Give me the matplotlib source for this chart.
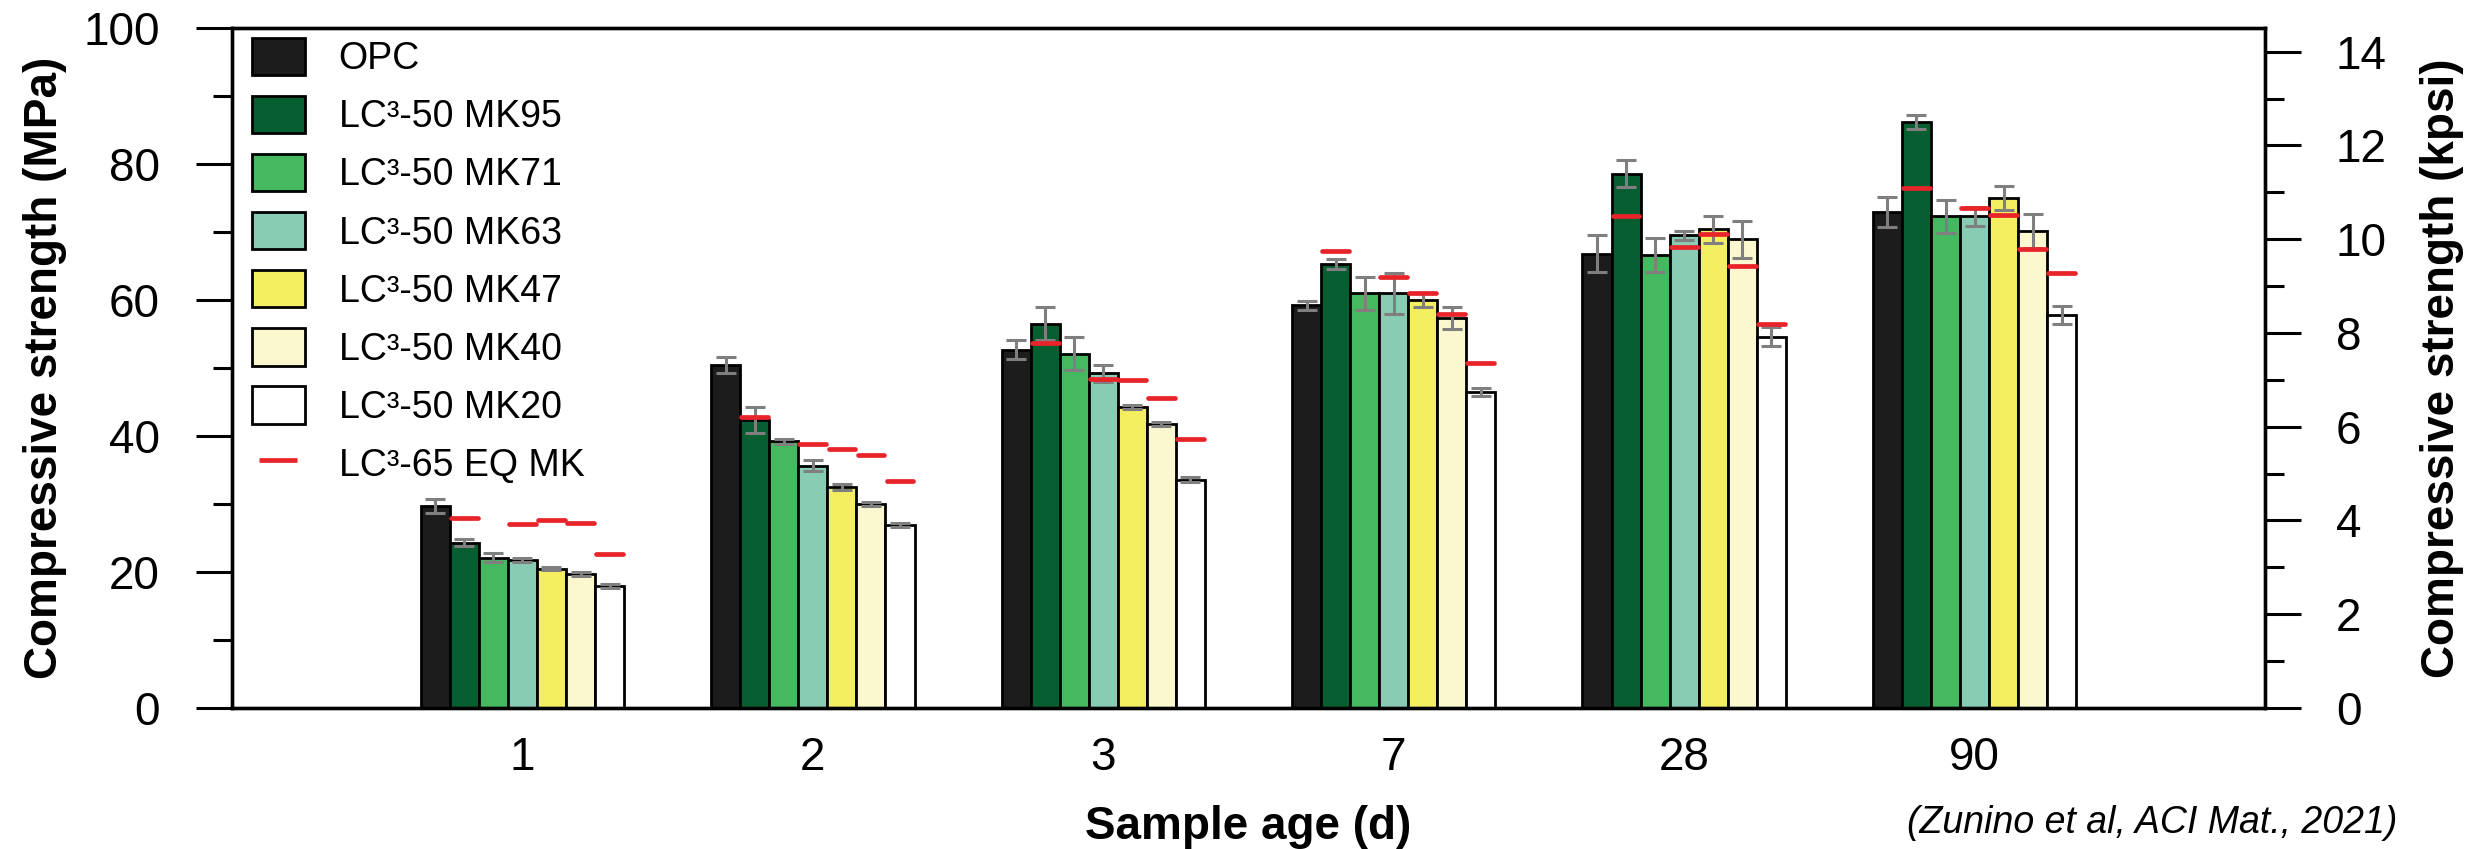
import matplotlib
matplotlib.use("Agg")
import matplotlib.pyplot as plt
import numpy as np
from matplotlib.lines import Line2D
from matplotlib.ticker import MultipleLocator

plt.rcParams['font.family'] = ['Liberation Sans', 'DejaVu Sans']

ages = ['1', '2', '3', '7', '28', '90']

series_names = ['OPC', 'LC³-50 MK95', 'LC³-50 MK71', 'LC³-50 MK63',
                'LC³-50 MK47', 'LC³-50 MK40', 'LC³-50 MK20']
series_colors = ['#1c1c1c', '#075e30', '#45b860', '#88cdb3',
                 '#f4ef60', '#fbf8d0', '#ffffff']

opc = [29.7, 50.4, 52.7, 59.2, 66.8, 72.9]
opc_err = [1.0, 1.2, 1.35, 0.6, 2.7, 2.2]
mk95 = [24.3, 42.3, 56.5, 65.3, 78.6, 86.2]
mk95_err = [0.5, 1.9, 2.4, 0.8, 1.95, 1.05]
mk71 = [22.1, 39.2, 52.1, 61.0, 66.6, 72.3]
mk71_err = [0.65, 0.4, 2.4, 2.45, 2.5, 2.4]
mk63 = [21.7, 35.6, 49.2, 61.0, 69.5, 72.3]
mk63_err = [0.3, 0.8, 1.3, 3.0, 0.7, 1.4]
mk47 = [20.5, 32.5, 44.3, 60.0, 70.4, 75.0]
mk47_err = [0.2, 0.5, 0.3, 1.0, 1.95, 1.8]
mk40 = [19.75, 30.0, 41.8, 57.4, 68.9, 70.1]
mk40_err = [0.3, 0.3, 0.3, 1.6, 2.7, 2.5]
mk20 = [18.0, 26.9, 33.6, 46.5, 54.6, 57.8]
mk20_err = [0.3, 0.3, 0.4, 0.6, 1.4, 1.3]

# LC3-65 equivalent MK results, placed over the matching LC3-50 series
eq_mk95 = [27.9, 42.8, 53.7, 67.2, 72.4, 76.4]
eq_mk63 = [27.1, 38.8, 48.4, 63.4, 67.8, 73.6]
eq_mk47 = [27.6, 38.1, 48.2, 61.0, 69.7, 72.5]
eq_mk40 = [27.2, 37.2, 45.6, 57.9, 65.0, 67.5]
eq_mk20 = [22.6, 33.4, 39.6, 50.8, 56.4, 64.0]

values = [opc, mk95, mk71, mk63, mk47, mk40, mk20]
errors = [opc_err, mk95_err, mk71_err, mk63_err, mk47_err, mk40_err, mk20_err]
eq_sets = {1: eq_mk95, 3: eq_mk63, 4: eq_mk47, 5: eq_mk40, 6: eq_mk20}

W, H = 2474, 849
fig = plt.figure(figsize=(W / 100, H / 100), dpi=100)
ax = fig.add_axes([232 / W, 1 - 708 / H, (2265 - 232) / W, (708 - 28) / H])

x = np.arange(len(ages))
bw = 0.1
n = len(values)
for j, (vals, errs, col, name) in enumerate(zip(values, errors, series_colors, series_names)):
    pos = x + (j - (n - 1) / 2) * bw
    ax.bar(pos, vals, width=bw, color=col, edgecolor='black', linewidth=2.0,
           label=name, zorder=2)
    ax.errorbar(pos, vals, yerr=errs, fmt='none', ecolor='#7f7f7f',
                elinewidth=2.2, capsize=7.5, capthick=2.2, zorder=3)
    if j in eq_sets:
        ax.hlines(eq_sets[j], pos - bw / 2 + 0.004, pos + bw / 2 - 0.004,
                  colors='#e8232a', linewidth=3.4, zorder=4, capstyle='round')

ax.set_xlim(-1, 6)
ax.set_ylim(0, 100)
ax.set_xticks(x)
ax.set_xticklabels(ages)
ax.yaxis.set_major_locator(MultipleLocator(20))
ax.yaxis.set_minor_locator(MultipleLocator(10))
ax.tick_params(axis='x', length=0, labelsize=33, pad=20)
ax.tick_params(axis='y', which='major', direction='out', length=26, width=2.2,
               labelsize=33, pad=26)
ax.tick_params(axis='y', which='minor', direction='out', length=14, width=2.2)
for s in ax.spines.values():
    s.set_linewidth(2.4)
ax.set_ylabel('Compressive strength (MPa)', fontsize=33, fontweight='bold', labelpad=12)
ax.set_xlabel('Sample age (d)', fontsize=33, fontweight='bold', labelpad=18)

ax2 = ax.twinx()
ax2.set_ylim(0, 100 / 6.89476)
ax2.yaxis.set_major_locator(MultipleLocator(2))
ax2.yaxis.set_minor_locator(MultipleLocator(1))
ax2.tick_params(axis='y', which='major', direction='out', length=26, width=2.2,
                labelsize=33, pad=25)
ax2.tick_params(axis='y', which='minor', direction='out', length=14, width=2.2)
for s in ax2.spines.values():
    s.set_linewidth(2.4)
ax2.set_ylabel('Compressive strength (kpsi)', fontsize=33, fontweight='bold', labelpad=24)

handles, labels = ax.get_legend_handles_labels()
eq_handle = Line2D([], [], color='#e8232a', linestyle='none', marker='_',
                   markersize=28, markeredgewidth=3.4)
handles.append(eq_handle)
labels.append('LC³-65 EQ MK')
ax.legend(handles, labels, loc='upper left', bbox_to_anchor=(20 / 2033, 1 - 10 / 680),
          frameon=False, fontsize=27, handlelength=1.41, handleheight=1.15,
          handletextpad=0.9, labelspacing=0.5, borderpad=0, borderaxespad=0,
          numpoints=1)

fig.text(2397 / W, 1 - 823 / H, '(Zunino et al, ACI Mat., 2021)', ha='right',
         va='center', fontsize=27, style='italic')

fig.savefig('out.png', dpi=100)
